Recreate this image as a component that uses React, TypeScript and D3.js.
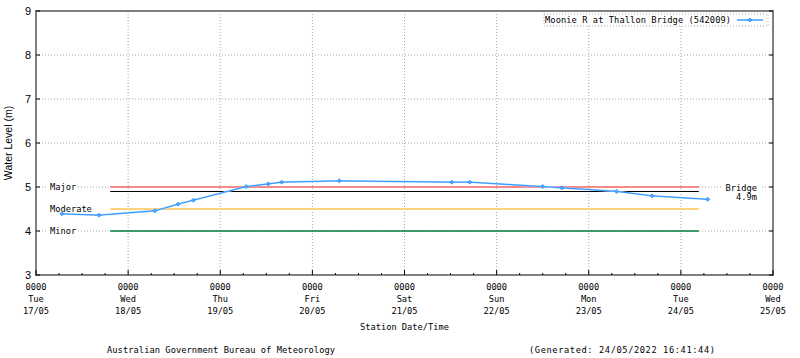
import React from "react";
import * as d3 from "d3";

const W = 800;
const H = 358;

// Observations (station time): [day, hour, minute]
const obsTimes: [number, number, number][] = [
  [17, 6, 45], [17, 16, 25], [18, 7, 0], [18, 13, 0], [18, 17, 0],
  [19, 6, 45], [19, 12, 30], [19, 16, 0], [20, 7, 0], [21, 12, 20],
  [21, 17, 0], [22, 12, 0], [22, 17, 0], [23, 7, 15], [23, 16, 30], [24, 7, 0],
];
const obsLevels = [
  4.39, 4.36, 4.46, 4.61, 4.70, 5.01, 5.07, 5.11, 5.14, 5.11, 5.11, 5.01, 4.98, 4.90, 4.80, 4.72,
];

const floodNames = ["Minor", "Moderate", "Major"];
const floodLevels = [4.0, 4.5, 5.0];
const floodColors = ["#00803c", "#ffd27f", "#f58a8a"];
const bridgeLevel = 4.9;
const thresholdStart: [number, number, number] = [17, 19, 20];
const thresholdEnd: [number, number, number] = [24, 4, 40];

const yTicks = [3, 4, 5, 6, 7, 8, 9];
const xStartDay = 17;
const xEndDay = 25;

const legendLabel = "Moonie R at Thallon Bridge (542009)";
const footerLeft = "Australian Government Bureau of Meteorology";
const footerRight = "(Generated: 24/05/2022 16:41:44)";

const toDate = (t: [number, number, number]) => new Date(Date.UTC(2022, 4, t[0], t[1], t[2]));

const mono = "'DejaVu Sans Mono', monospace";
const sans = "'Liberation Sans', Arial, sans-serif";

export default function App() {
  const left = 36, right = 773, top = 11, bottom = 275;
  const x = d3.scaleUtc()
    .domain([new Date(Date.UTC(2022, 4, xStartDay)), new Date(Date.UTC(2022, 4, xEndDay))])
    .range([left, right]);
  const y = d3.scaleLinear().domain([3, 9]).range([bottom, top]);

  const days = d3.utcDay.range(x.domain()[0], d3.utcDay.offset(x.domain()[1], 1)).filter(d => +d <= +x.domain()[1]);
  const minor = d3.utcHour.every(6)!.range(x.domain()[0], x.domain()[1]).filter(d => d.getUTCHours() !== 0);

  const data = obsTimes.map((t, i) => ({ t: toDate(t), v: obsLevels[i] }));
  const line = d3.line<{ t: Date; v: number }>().x(d => x(d.t)).y(d => y(d.v));

  const fmtH = d3.utcFormat("%H%M");
  const fmtD = d3.utcFormat("%a");
  const fmtDM = d3.utcFormat("%d/%m");

  const tx0 = x(toDate(thresholdStart));
  const tx1 = x(toDate(thresholdEnd));

  const diamond = (cx: number, cy: number, r = 2) =>
    `M${cx},${cy - r}L${cx + r},${cy}L${cx},${cy + r}L${cx - r},${cy}Z`;

  const gridColor = "#a8a8a8";
  const axisColor = "#808080";

  return (
    <svg width={W} height={H} style={{ position: "absolute", left: 0, top: 0, background: "#fff" }}>
      <rect x={0} y={0} width={W} height={H} fill="#fff" />
      {/* grid */}
      {yTicks.slice(1, -1).map(v => (
        <line key={"gy" + v} x1={left} x2={right} y1={y(v)} y2={y(v)} stroke={gridColor} strokeDasharray="1,2" />
      ))}
      {days.slice(1, -1).map(d => (
        <line key={"gx" + +d} x1={x(d)} x2={x(d)} y1={top} y2={bottom} stroke={gridColor} strokeDasharray="1,2" />
      ))}

      {/* threshold lines */}
      {floodLevels.map((v, i) => (
        <line key={"fl" + i} x1={tx0} x2={tx1} y1={y(v)} y2={y(v)} stroke={floodColors[i]} strokeWidth={i === 0 ? 1.5 : 2} />
      ))}
      <line x1={tx0} x2={tx1} y1={Math.round(y(bridgeLevel)) + 0.5} y2={Math.round(y(bridgeLevel)) + 0.5} stroke="#000" strokeWidth={1} />

      {/* threshold labels */}
      {floodLevels.map((v, i) => {
        const w = floodNames[i].length * 5.2;
        return (
          <g key={"lab" + i}>
            <rect x={48} y={y(v) - 5} width={w + 4} height={10} fill="#fff" />
            <text x={50} y={y(v) + 3} fontFamily={mono} fontSize={8.7} fill="#000">{floodNames[i]}</text>
          </g>
        );
      })}
      <rect x={722} y={y(5) - 5} width={38} height={10} fill="#fff" />
      <text x={757} y={y(5) + 3.5} textAnchor="end" fontFamily={mono} fontSize={8.7} fill="#000">Bridge</text>
      <text x={757} y={y(5) + 12.5} textAnchor="end" fontFamily={mono} fontSize={8.7} fill="#000">{bridgeLevel.toFixed(1)}m</text>

      {/* series */}
      <path d={line(data)!} fill="none" stroke="#a6d2ff" strokeWidth={1.8} />
      <path d={line(data)!} fill="none" stroke="#1e8cff" strokeWidth={0.9} />
      {data.map((d, i) => (
        <path key={"m" + i} d={diamond(x(d.t), y(d.v))} fill="#5aa8ff" stroke="#1e8cff" strokeWidth={0.8} />
      ))}

      {/* frame */}
      <rect x={left} y={top} width={right - left} height={bottom - top} fill="none" stroke={axisColor} strokeWidth={2} />

      {/* y ticks */}
      {yTicks.map(v => (
        <g key={"yt" + v}>
          <line x1={left} x2={left + 4} y1={y(v)} y2={y(v)} stroke="#000" />
          <line x1={right - 4} x2={right} y1={y(v)} y2={y(v)} stroke="#000" />
          <text x={31} y={y(v) + 4} textAnchor="end" fontFamily={sans} fontSize={11} fill="#000">{v}</text>
        </g>
      ))}

      {/* x ticks */}
      {minor.map(d => (
        <line key={"mt" + +d} x1={x(d)} x2={x(d)} y1={bottom} y2={bottom - 2} stroke="#000" />
      ))}
      {days.map(d => (
        <g key={"xt" + +d}>
          <line x1={x(d)} x2={x(d)} y1={bottom} y2={bottom - 5} stroke="#000" />
          <text x={x(d)} y={290} textAnchor="middle" fontFamily={mono} fontSize={8.7} fill="#000">{fmtH(d)}</text>
          <text x={x(d)} y={302} textAnchor="middle" fontFamily={mono} fontSize={8.7} fill="#000">{fmtD(d)}</text>
          <text x={x(d)} y={314} textAnchor="middle" fontFamily={mono} fontSize={8.7} fill="#000">{fmtDM(d)}</text>
        </g>
      ))}

      {/* axis titles */}
      <text x={(left + right) / 2} y={330} textAnchor="middle" fontFamily={mono} fontSize={8.7} fill="#000">Station Date/Time</text>
      <text transform={`translate(12,${(top + bottom) / 2}) rotate(-90)`} textAnchor="middle" fontFamily={sans} fontSize={10.5} fill="#000">Water Level (m)</text>

      {/* legend */}
      <rect x={544} y={14} width={224} height={12} fill="#fff" stroke={gridColor} strokeDasharray="1,2" />
      <text x={545} y={23} fontFamily={mono} fontSize={8.7} fill="#000" textLength={186} lengthAdjust="spacing">{legendLabel}</text>
      <line x1={737} x2={763} y1={20} y2={20} stroke="#a6d2ff" strokeWidth={1.8} />
      <line x1={737} x2={763} y1={20} y2={20} stroke="#1e8cff" strokeWidth={0.9} />
      <path d={diamond(750, 20)} fill="#5aa8ff" stroke="#1e8cff" strokeWidth={0.8} />

      {/* footer */}
      <text x={107} y={353} fontFamily={mono} fontSize={8.7} fill="#000" textLength={228} lengthAdjust="spacing">{footerLeft}</text>
      <text x={529} y={353} fontFamily={mono} fontSize={8.7} fill="#000" textLength={186} lengthAdjust="spacing">{footerRight}</text>
    </svg>
  );
}
